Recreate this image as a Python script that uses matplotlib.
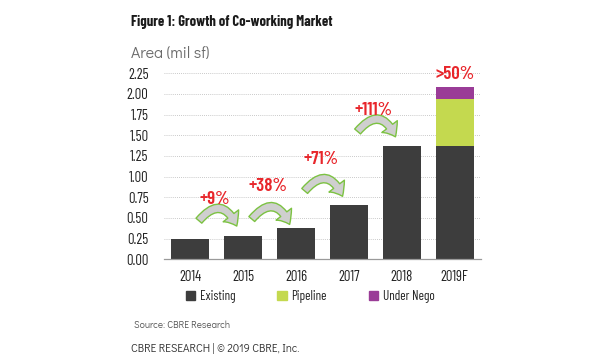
import matplotlib
matplotlib.use('Agg')
import matplotlib.pyplot as plt
from matplotlib.patches import FancyArrowPatch, Patch

# data (mil sf)
years = ['2014', '2015', '2016', '2017', '2018', '2019F']
existing = [0.25, 0.28, 0.38, 0.65, 1.37, 1.37]
pipeline = [0, 0, 0, 0, 0, 0.57]
under_nego = [0, 0, 0, 0, 0, 0.14]
growth_labels = ['+9%', '+38%', '+71%', '+111%']
forecast_label = '>50%'

# layout of the curved growth arrows (y of the arrow tail, label y)
arrow_y = [0.44, 0.46, 0.80, 1.52]
label_y = [0.72, 0.88, 1.21, 1.80]

C_EXIST = '#3d3d3d'
C_PIPE = '#c4d94f'
C_NEGO = '#9a3c97'
C_RED = '#e8262b'
C_GREEN = '#7cc242'
NARROW = ['Barlow Condensed', 'Liberation Sans Narrow', 'DejaVu Sans']
GOTHIC = ['Didact Gothic', 'Lato', 'DejaVu Sans']

fig = plt.figure(figsize=(6, 3.61), dpi=100)
ax = fig.add_axes([0.273, 0.282, 0.529, 0.515])

x = range(len(years))
ax.bar(x, existing, width=0.71, color=C_EXIST, zorder=2)
ax.bar(x, pipeline, width=0.71, bottom=existing, color=C_PIPE, zorder=2)
tops = [e + p for e, p in zip(existing, pipeline)]
ax.bar(x, under_nego, width=0.71, bottom=tops, color=C_NEGO, zorder=2)

ax.set_xlim(-0.5, 5.5)
ax.set_ylim(0, 2.25)
ax.set_yticks([i * 0.25 for i in range(10)])
ax.set_yticklabels([f'{i * 0.25:.2f}' for i in range(10)], family=NARROW, fontsize=10.5, color='#222222')
ax.set_xticks(list(x))
ax.set_xticklabels(years, family=NARROW, fontsize=10.5, color='#222222')
ax.tick_params(axis='both', length=0)
ax.tick_params(axis='y', pad=11)
ax.tick_params(axis='x', pad=8)
ax.grid(axis='y', linestyle=(0, (1, 1.5)), color='#b8b8b8', linewidth=0.6, zorder=0)
for s in ['top', 'right', 'left']:
    ax.spines[s].set_visible(False)
ax.spines['bottom'].set_color('#9a9a9a')
ax.spines['bottom'].set_linewidth(0.9)

# curved growth arrows and labels
for i, lab in enumerate(growth_labels):
    arr = FancyArrowPatch((i + 0.13, arrow_y[i]), (i + 0.9, arrow_y[i] - 0.07),
                          connectionstyle='arc3,rad=-0.85',
                          arrowstyle='simple,head_width=14,head_length=8.5,tail_width=5.5',
                          facecolor='#cfcfcf', edgecolor=C_GREEN, linewidth=1.0,
                          mutation_scale=1, zorder=3)
    ax.add_patch(arr)
    ax.text(i + 0.47, label_y[i], lab, ha='center', va='center', color=C_RED,
            family=NARROW, fontsize=13.5, fontweight='semibold', zorder=4)

ax.text(5, 2.23, forecast_label, ha='center', va='center', color=C_RED,
        family=NARROW, fontsize=13.5, fontweight='semibold', zorder=4, clip_on=False)

handles = [Patch(color=C_EXIST, label='Existing'),
           Patch(color=C_PIPE, label='Pipeline'),
           Patch(color=C_NEGO, label='Under Nego')]
leg = fig.legend(handles=handles, loc='center', bbox_to_anchor=(0.517, 0.178), ncol=3,
                 frameon=False, prop={'family': NARROW, 'size': 9.5},
                 handlelength=0.7, handleheight=0.7, handletextpad=0.35, columnspacing=3.2)
for t in leg.get_texts():
    t.set_color('#222222')

fig.text(0.219, 0.94, 'Figure 1: Growth of Co-working Market', family=NARROW,
         fontsize=10.5, fontweight='bold', color='#1a1a1a', va='center')
fig.text(0.219, 0.853, 'Area (mil sf)', family=GOTHIC, fontsize=11.5, color='#6a6a6a', va='center')
fig.text(0.223, 0.1, 'Source: CBRE Research', family=GOTHIC, fontsize=7, color='#555555', va='center')
fig.text(0.219, 0.036, 'CBRE RESEARCH | \u00a9 2019 CBRE, Inc.', family=GOTHIC, fontsize=8,
         color='#333333', va='center')

fig.savefig('out.png', dpi=100, facecolor='white')
